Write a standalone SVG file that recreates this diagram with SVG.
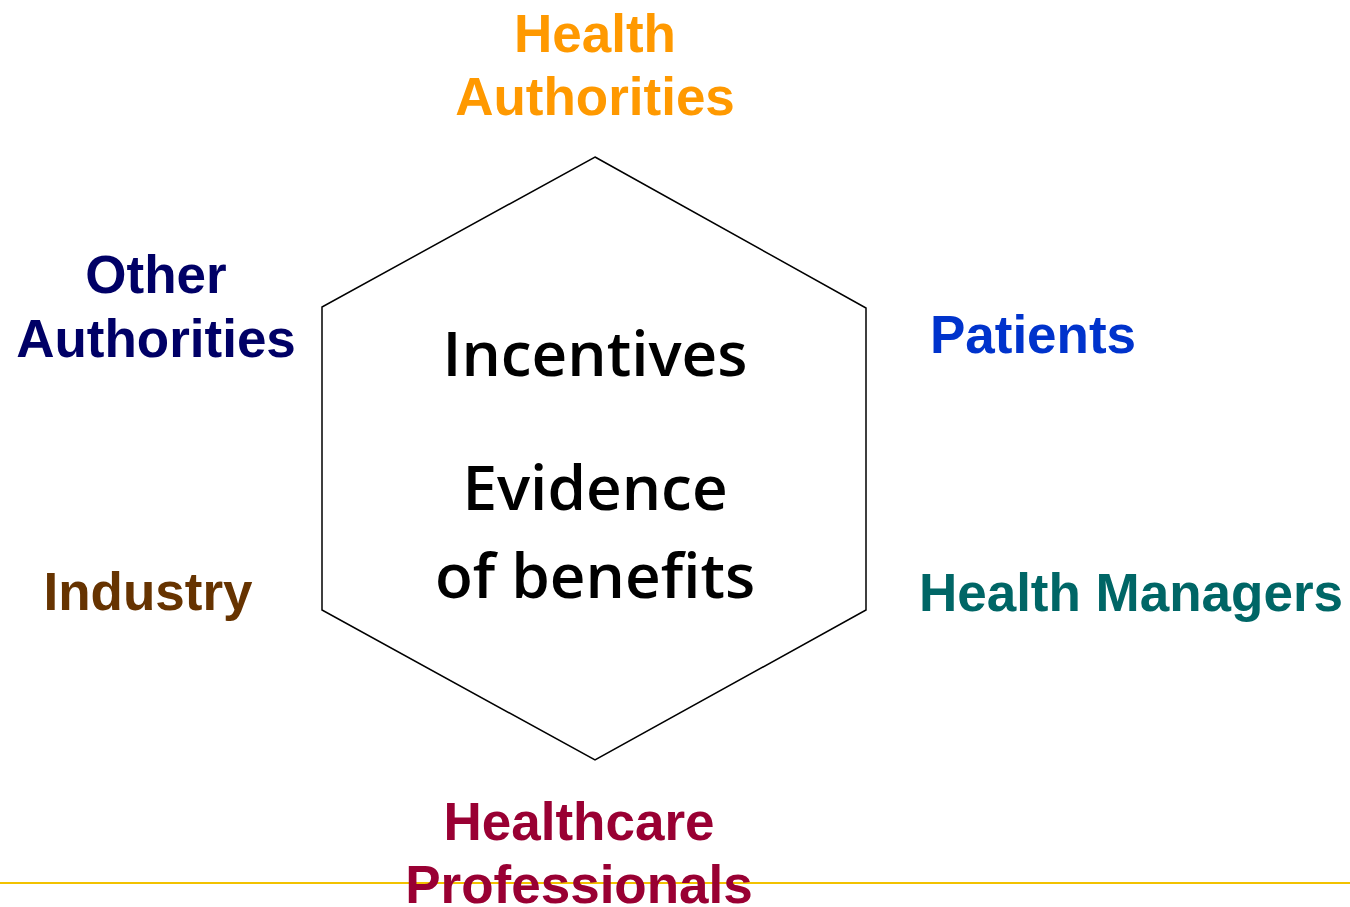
<svg xmlns="http://www.w3.org/2000/svg" width="1350" height="907" viewBox="0 0 1350 907">
<style>
.lbl{font-family:"Liberation Sans",Arial,sans-serif;font-weight:bold;font-size:53px;text-anchor:middle}
.ctr{font-family:"Open Sans","DejaVu Sans",sans-serif;font-weight:600;font-size:62px;text-anchor:middle;fill:#000}
</style>
<rect width="1350" height="907" fill="#fff"/>
<line x1="0" y1="883" x2="1350" y2="883" stroke="#F2C200" stroke-width="2"/>
<g id="connectors"></g>
<g id="hexagon">
<polygon points="595,157 866,308 866,610 595,760 322,610 322,307" fill="none" stroke="#000" stroke-width="1.5"/>
<text class="ctr" x="595" y="376">Incentives</text>
<text class="ctr" x="595" y="510">Evidence</text>
<text class="ctr" x="595" y="598">of benefits</text>
</g>
<g id="health-authorities"><text class="lbl" x="595" y="52" fill="#FF9900">Health</text><text class="lbl" x="595" y="115" fill="#FF9900">Authorities</text></g>
<g id="other-authorities"><text class="lbl" x="156" y="293" fill="#000066">Other</text><text class="lbl" x="156" y="357" fill="#000066">Authorities</text></g>
<g id="patients"><text class="lbl" x="1033" y="353" fill="#0033CC">Patients</text></g>
<g id="industry"><text class="lbl" x="148" y="610" fill="#663300">Industry</text></g>
<g id="health-managers"><text class="lbl" x="1131" y="611" fill="#006666">Health Managers</text></g>
<g id="healthcare-professionals"><text class="lbl" x="579" y="840" fill="#990033">Healthcare</text><text class="lbl" x="579" y="903" fill="#990033">Professionals</text></g>
</svg>
